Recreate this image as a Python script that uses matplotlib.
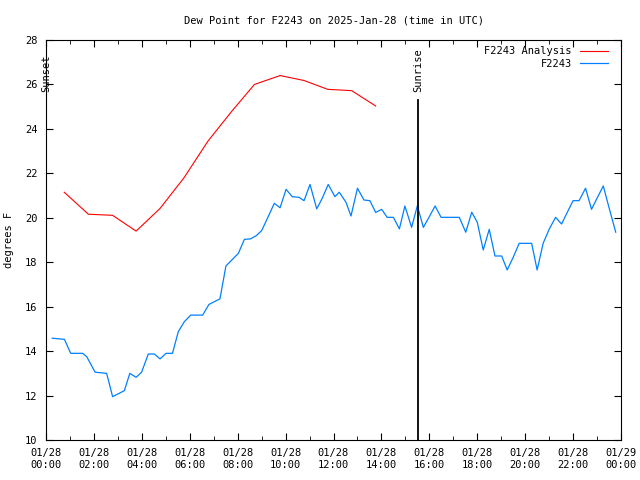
import matplotlib.pyplot as plt
from matplotlib.ticker import MultipleLocator

plt.rcParams['font.family'] = 'DejaVu Sans Mono'
plt.rcParams['font.size'] = 7.5

# analysis (hourly, hours since 01/28 00:00 UTC)
ana_t = [0.76, 1.77, 2.78, 3.76, 4.76, 5.76, 6.76, 7.76, 8.70, 9.77, 10.76, 11.76, 12.76, 13.76]
ana_v = [21.15, 20.16, 20.11, 19.40, 20.42, 21.80, 23.45, 24.80, 26.00, 26.40, 26.18, 25.78, 25.72, 25.03]

# station observations
obs_t = [0.26, 0.77, 1.03, 1.53, 1.70, 2.05, 2.53, 2.78, 3.27, 3.50, 3.76, 3.99,
         4.27, 4.52, 4.76, 5.01, 5.28, 5.52, 5.77, 6.04, 6.54, 6.80, 7.26, 7.51,
         8.03, 8.28, 8.54, 8.78, 9.00, 9.21, 9.53, 9.77, 10.02, 10.28, 10.56, 10.77,
         11.02, 11.30, 11.53, 11.78, 12.06, 12.24, 12.52, 12.73, 13.00, 13.27, 13.52,
         13.76, 14.01, 14.24, 14.50, 14.75, 14.98, 15.26, 15.50, 15.75, 16.00, 16.24,
         16.49, 17.25, 17.52, 17.77, 18.00, 18.25, 18.50, 18.74, 19.02, 19.25, 19.50,
         19.75, 20.27, 20.50, 20.75, 21.00, 21.27, 21.52, 21.76, 22.00, 22.25, 22.52,
         22.77, 23.00, 23.26, 23.51, 23.78]
obs_v = [14.58, 14.53, 13.90, 13.90, 13.75, 13.05, 13.00, 11.95, 12.22, 13.00, 12.82, 13.05,
         13.87, 13.87, 13.65, 13.90, 13.90, 14.87, 15.32, 15.62, 15.62, 16.10, 16.35, 17.83,
         18.40, 19.03, 19.05, 19.20, 19.42, 19.90, 20.65, 20.45, 21.28, 20.95, 20.92, 20.77,
         21.50, 20.40, 20.88, 21.50, 20.95, 21.15, 20.70, 20.08, 21.33, 20.80, 20.77,
         20.24, 20.38, 20.02, 20.02, 19.50, 20.53, 19.57, 20.54, 19.57, 20.05, 20.53,
         20.02, 20.02, 19.35, 20.25, 19.80, 18.55, 19.48, 18.28, 18.28, 17.65, 18.22,
         18.85, 18.85, 17.65, 18.85, 19.48, 20.02, 19.72, 20.25, 20.77, 20.77, 21.33,
         20.38, 20.88, 21.43, 20.42, 19.35]

sunset_t = 0.0
sunrise_t = 15.53
xtick_hours = list(range(0, 25, 2))
xtick_labels = ['01/28\n%02d:00' % h for h in range(0, 24, 2)] + ['01/29\n00:00']

fig = plt.figure(figsize=(6.4, 4.8), dpi=100)
ax = fig.add_axes([46 / 640, 40 / 480, 575 / 640, 400 / 480])

ax.plot(ana_t, ana_v, color='#ff0000', lw=0.8, label='F2243 Analysis')
ax.plot(obs_t, obs_v, color='#0080ff', lw=0.9, label='F2243')

ax.plot([sunrise_t, sunrise_t], [25.3, 10], color='black', lw=1.3)
ax.text(sunrise_t, 25.65, 'Sunrise', rotation=90, ha='center', va='bottom')
ax.text(sunset_t, 25.65, 'Sunset', rotation=90, ha='center', va='bottom')

ax.set_xlim(0, 24)
ax.set_ylim(10, 28)
ax.set_xticks(xtick_hours)
ax.set_xticklabels(xtick_labels)
ax.xaxis.set_minor_locator(MultipleLocator(1))
ax.set_yticks(range(10, 29, 2))
ax.tick_params(direction='in', top=True, right=True, which='both', length=5, pad=6)
ax.tick_params(which='minor', length=3)

ax.set_title('Dew Point for F2243 on 2025-Jan-28 (time in UTC)', fontsize=7.5, pad=12)
ax.set_ylabel('degrees F', labelpad=8)

leg = ax.legend(loc='upper right', frameon=False, markerfirst=False, handlelength=2.7,
                bbox_to_anchor=(0.985, 0.995), borderaxespad=0, labelspacing=0.25,
                handletextpad=0.8)
for t in leg.get_texts():
    t.set_ha('right')

plt.savefig('out.png', dpi=100)
